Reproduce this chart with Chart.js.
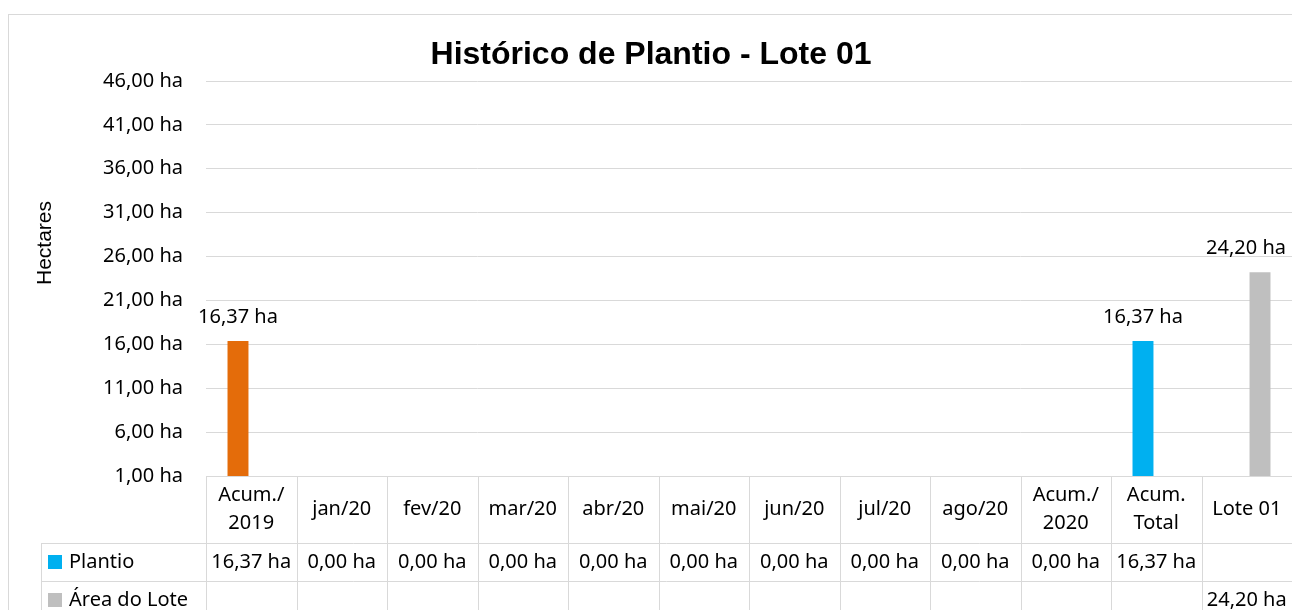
<!DOCTYPE html>
<html lang="pt-BR">
<head>
<meta charset="UTF-8">
<title>Histórico de Plantio - Lote 01</title>
<script src="https://cdn.jsdelivr.net/npm/chart.js"></script>
<style>
  html, body { margin: 0; padding: 0; background: #fff; }
  #wrap { width: 1292px; height: 610px; }
</style>
</head>
<body>
<div id="wrap"><canvas id="plantioChart" width="1292" height="610"></canvas></div>
<script>
// categorias (as quebras de linha seguem o Excel)
const categorias = [['Acum./', '2019'], 'jan/20', 'fev/20', 'mar/20', 'abr/20', 'mai/20',
    'jun/20', 'jul/20', 'ago/20', ['Acum./', '2020'], ['Acum.', 'Total'], 'Lote 01'];
// séries
const plantio = [16.37, 0, 0, 0, 0, 0, 0, 0, 0, 0, 16.37, null];
const areaLote = [null, null, null, null, null, null, null, null, null, null, null, 24.20];
const nomesSeries = ['Plantio', 'Área do Lote'];
// ticks do eixo y
const yTicks = [1, 6, 11, 16, 21, 26, 31, 36, 41, 46];

const LARANJA = '#E46C0A', AZUL = '#00B0F0', CINZA = '#BFBFBF', LINHA = '#d9d9d9';
const FONTE = '"Noto Sans", sans-serif';

function fmt(v) {
    return v.toFixed(2).replace('.', ',') + ' ha';
}

// moldura, título e título do eixo
const moldura = {
    id: 'moldura',
    beforeDraw(chart) {
        const ctx = chart.ctx;
        ctx.save();
        ctx.fillStyle = '#fff';
        ctx.fillRect(0, 0, chart.width, chart.height);
        ctx.strokeStyle = LINHA;
        ctx.lineWidth = 1;
        ctx.strokeRect(8.5, 14.5, chart.width + 20, chart.height + 20);
        ctx.restore();
    },
    afterDraw(chart) {
        const ctx = chart.ctx;
        ctx.save();
        ctx.fillStyle = '#000';
        ctx.textAlign = 'center';
        ctx.textBaseline = 'middle';
        ctx.font = 'bold 32px "Liberation Sans", Arial, sans-serif';
        ctx.fillText('Histórico de Plantio - Lote 01', 651, 55);
        ctx.translate(45, 243);
        ctx.rotate(-Math.PI / 2);
        ctx.font = '21px "Liberation Sans", Arial, sans-serif';
        ctx.fillText('Hectares', 0, 0);
        ctx.restore();
    }
};

// rótulos de dados acima das barras
const rotulos = {
    id: 'rotulos',
    afterDatasetsDraw(chart) {
        const ctx = chart.ctx;
        const yMin = chart.scales.y.min;
        ctx.save();
        ctx.font = '20px ' + FONTE;
        ctx.fillStyle = '#000';
        ctx.textAlign = 'center';
        ctx.textBaseline = 'alphabetic';
        chart.data.datasets.forEach((ds, i) => {
            chart.getDatasetMeta(i).data.forEach((bar, j) => {
                const v = ds.data[j];
                if (v == null || v <= yMin) return;
                const txt = fmt(v);
                const w = ctx.measureText(txt).width;
                let x = bar.x;
                if (x + w / 2 > chart.width - 6) x = chart.width - 6 - w / 2;
                ctx.fillText(txt, x, bar.y - 18);
            });
        });
        ctx.restore();
    }
};

// tabela de dados abaixo do gráfico
const tabela = {
    id: 'tabela',
    afterDraw(chart) {
        const ctx = chart.ctx;
        const a = chart.chartArea;
        const x = chart.scales.x;
        const n = categorias.length;
        const w = (a.right - a.left) / n;
        const topo = a.bottom, l1 = topo + 67, l2 = l1 + 38, fundo = l2 + 38;
        const esq = 41;
        const px = v => Math.round(v) + 0.5;

        ctx.save();
        ctx.strokeStyle = LINHA;
        ctx.lineWidth = 1;
        ctx.beginPath();
        ctx.moveTo(a.left, px(topo)); ctx.lineTo(a.right, px(topo));
        [l1, l2, fundo].forEach(y => { ctx.moveTo(esq, px(y)); ctx.lineTo(a.right, px(y)); });
        for (let i = 0; i <= n; i++) {
            const bx = px(a.left + i * w);
            ctx.moveTo(bx, topo); ctx.lineTo(bx, fundo);
        }
        ctx.moveTo(px(esq), l1); ctx.lineTo(px(esq), fundo);
        ctx.stroke();

        ctx.fillStyle = '#000';
        ctx.font = '20px ' + FONTE;
        ctx.textBaseline = 'middle';
        ctx.textAlign = 'center';
        categorias.forEach((c, i) => {
            const cx = x.getPixelForValue(i);
            const linhas = Array.isArray(c) ? c : [c];
            const meio = (topo + l1) / 2;
            linhas.forEach((t, k) => {
                ctx.fillText(t, cx, meio + (k - (linhas.length - 1) / 2) * 28);
            });
        });

        const series = [plantio, areaLote];
        const cores = [AZUL, CINZA];
        const linhasY = [(l1 + l2) / 2, (l2 + fundo) / 2];
        series.forEach((s, r) => {
            const cy = linhasY[r];
            s.forEach((v, i) => {
                if (v == null) return;
                ctx.fillText(fmt(v), x.getPixelForValue(i), cy);
            });
            ctx.fillStyle = cores[r];
            ctx.fillRect(48, Math.round(cy - 7), 14, 14);
            ctx.fillStyle = '#000';
            ctx.textAlign = 'left';
            ctx.fillText(nomesSeries[r], 69, cy);
            ctx.textAlign = 'center';
        });
        ctx.restore();
    }
};

const ctx = document.getElementById('plantioChart').getContext('2d');
new Chart(ctx, {
    type: 'bar',
    data: {
        labels: categorias,
        datasets: [{
            label: nomesSeries[0],
            data: plantio,
            backgroundColor: c => c.dataIndex === 0 ? LARANJA : AZUL,
            categoryPercentage: 0.586,
            barPercentage: 0.79
        }, {
            label: nomesSeries[1],
            data: areaLote,
            backgroundColor: CINZA,
            categoryPercentage: 0.586,
            barPercentage: 0.79
        }]
    },
    options: {
        responsive: false,
        animation: false,
        layout: { padding: { top: 81, right: -6, bottom: 0, left: 0 } },
        plugins: {
            legend: { display: false },
            title: { display: false },
            tooltip: { enabled: false }
        },
        scales: {
            x: {
                ticks: { display: false },
                grid: { display: false },
                border: { display: false },
                afterFit(scale) { scale.height = 134; }
            },
            y: {
                min: yTicks[0],
                max: yTicks[yTicks.length - 1],
                ticks: {
                    stepSize: yTicks[1] - yTicks[0],
                    padding: 23,
                    color: '#000',
                    font: { family: FONTE, size: 20 },
                    callback: v => fmt(v)
                },
                grid: { color: LINHA, lineWidth: 1, drawTicks: false },
                border: { display: false },
                afterFit(scale) { scale.width = 206; }
            }
        }
    },
    plugins: [moldura, rotulos, tabela]
});
</script>
</body>
</html>
